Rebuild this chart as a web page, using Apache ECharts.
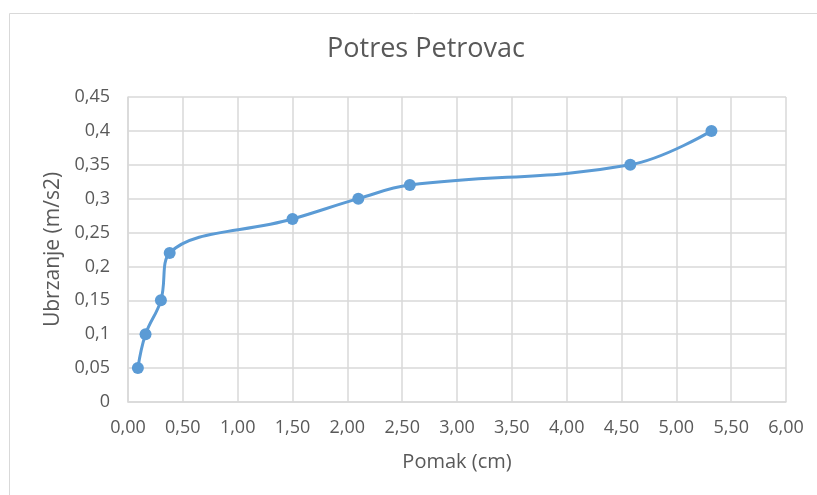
<!DOCTYPE html>
<html lang="hr">
<head>
    <meta charset="UTF-8">
    <title>Potres Petrovac</title>
    <style>
        html, body { margin: 0; padding: 0; background: #fff; }
        #chart { width: 817px; height: 495px; }
    </style>
</head>
<body>
    <div id="chart"></div>
    <script src="https://cdn.jsdelivr.net/npm/echarts@6/dist/echarts.min.js"></script>
    <script>
        // podaci ocitani sa slike
        var pomak = [0.09, 0.16, 0.30, 0.38, 1.50, 2.10, 2.57, 4.58, 5.32];
        var ubrzanje = [0.05, 0.10, 0.15, 0.22, 0.27, 0.30, 0.32, 0.35, 0.40];

        var points = [];
        for (var i = 0; i < pomak.length; i++) {
            points.push([pomak[i], ubrzanje[i]]);
        }

        var txt = '#595959';
        var gridCol = '#d9d9d9';
        var font = 'Open Sans';

        var chart = echarts.init(document.getElementById('chart'));
        chart.setOption({
            animation: false,
            graphic: [{
                type: 'rect',
                shape: { x: 9.5, y: 13.5, width: 830, height: 500 },
                style: { fill: 'none', stroke: '#d9d9d9', lineWidth: 1 }
            }],
            title: {
                text: 'Potres Petrovac',
                left: 421,
                textAlign: 'center',
                top: 31,
                textStyle: { color: txt, fontSize: 27, fontWeight: 'normal', fontFamily: font }
            },
            grid: { left: 128, right: 31, top: 97, bottom: 93 },
            xAxis: {
                type: 'value',
                min: 0, max: 6, interval: 0.5,
                name: 'Pomak (cm)',
                nameLocation: 'middle',
                nameGap: 50,
                nameTextStyle: { color: txt, fontSize: 20, fontFamily: font },
                axisLine: { show: true, lineStyle: { color: gridCol, width: 1.5 } },
                axisTick: { show: false },
                axisLabel: {
                    color: txt, fontSize: 18, fontFamily: font, margin: 17,
                    formatter: function (v) { return v.toFixed(2).replace('.', ','); }
                },
                splitLine: { show: true, lineStyle: { color: gridCol, width: 1.5 } }
            },
            yAxis: {
                type: 'value',
                min: 0, max: 0.45, interval: 0.05,
                name: 'Ubrzanje (m/s2)',
                nameLocation: 'middle',
                nameGap: 62,
                nameTextStyle: { color: txt, fontSize: 21, fontFamily: font },
                axisLine: { show: true, lineStyle: { color: gridCol, width: 1.5 } },
                axisTick: { show: false },
                axisLabel: {
                    color: txt, fontSize: 18, fontFamily: font, margin: 18,
                    formatter: function (v) { return String(+v.toFixed(2)).replace('.', ','); }
                },
                splitLine: { show: true, lineStyle: { color: gridCol, width: 1.5 } }
            },
            series: [{
                type: 'line',
                data: points,
                smooth: 0.4,
                symbol: 'circle',
                symbolSize: 12,
                lineStyle: { color: '#5b9bd5', width: 3 },
                itemStyle: { color: '#5b9bd5' }
            }]
        });
    </script>
</body>
</html>
